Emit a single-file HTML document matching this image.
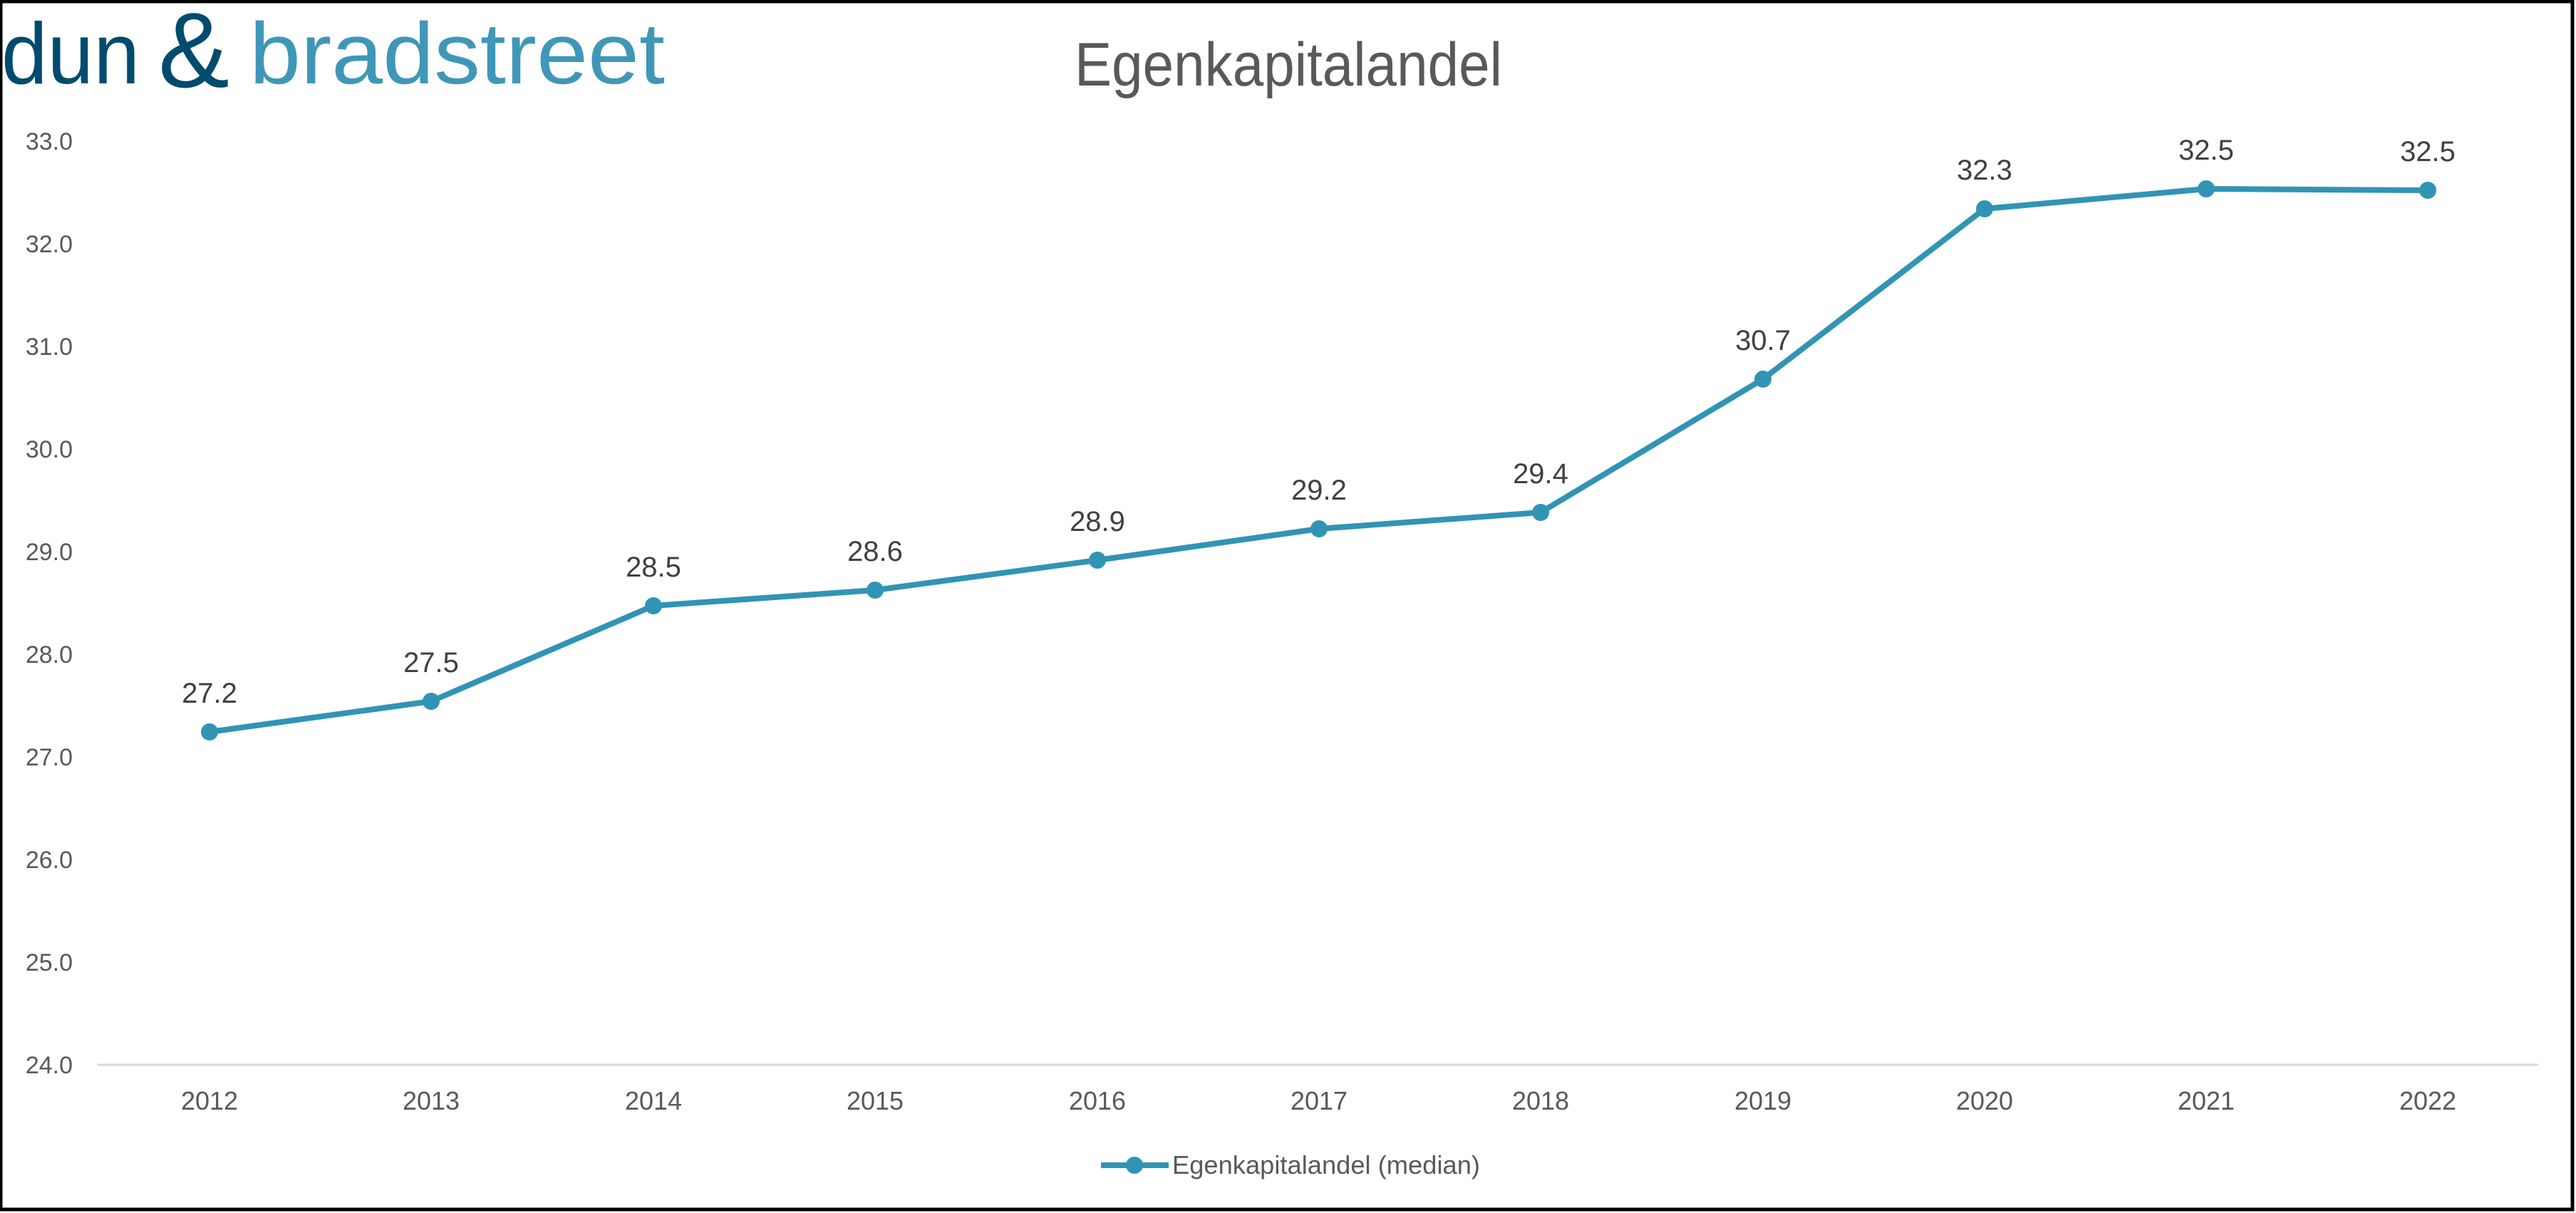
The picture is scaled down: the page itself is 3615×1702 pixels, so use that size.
<!DOCTYPE html>
<html><head><meta charset="utf-8"><style>
html,body{margin:0;padding:0;background:#fff}
svg{display:block}
text{font-family:"Liberation Sans",sans-serif}
</style></head><body>
<svg width="3615" height="1702" viewBox="0 0 3615 1702" xmlns="http://www.w3.org/2000/svg">
<rect x="0" y="0" width="3615" height="1702" fill="#fff"/>
<rect x="1" y="2" width="3609" height="1695" fill="none" stroke="#000" stroke-width="5"/>
<!-- logo -->
<text x="2" y="117" font-size="122" fill="#004b6e" textLength="194" lengthAdjust="spacingAndGlyphs">dun</text>
<text x="222" y="122" font-size="150" fill="#004b6e" textLength="100" lengthAdjust="spacingAndGlyphs">&amp;</text>
<text x="350" y="117" font-size="122" fill="#3f97b8" textLength="583" lengthAdjust="spacingAndGlyphs">bradstreet</text>
<!-- title -->
<text x="1808" y="120" font-size="86" fill="#595959" text-anchor="middle" textLength="600" lengthAdjust="spacingAndGlyphs">Egenkapitalandel</text>
<!-- y labels -->
<g font-size="34" fill="#595959" text-anchor="end">
<text x="102" y="210">33.0</text>
<text x="102" y="354">32.0</text>
<text x="102" y="498">31.0</text>
<text x="102" y="642">30.0</text>
<text x="102" y="786">29.0</text>
<text x="102" y="930">28.0</text>
<text x="102" y="1074">27.0</text>
<text x="102" y="1218">26.0</text>
<text x="102" y="1362">25.0</text>
<text x="102" y="1506">24.0</text>
</g>
<line x1="137" y1="1494" x2="3562" y2="1494" stroke="#d9d9d9" stroke-width="3"/>
<g font-size="36" fill="#595959" text-anchor="middle">
<text x="294" y="1557">2012</text>
<text x="605" y="1557">2013</text>
<text x="917" y="1557">2014</text>
<text x="1228" y="1557">2015</text>
<text x="1540" y="1557">2016</text>
<text x="1851" y="1557">2017</text>
<text x="2162" y="1557">2018</text>
<text x="2474" y="1557">2019</text>
<text x="2785" y="1557">2020</text>
<text x="3096" y="1557">2021</text>
<text x="3407" y="1557">2022</text>
</g>
<polyline fill="none" stroke="#3194b5" stroke-width="8" stroke-linejoin="round" points="294,1027 605,984 917,850 1228,828 1540,786 1851,742 2162,719 2474,532 2785,293 3096,265 3407,267"/>
<g fill="#3194b5">
<circle cx="294" cy="1027" r="12"/><circle cx="605" cy="984" r="12"/><circle cx="917" cy="850" r="12"/>
<circle cx="1228" cy="828" r="12"/><circle cx="1540" cy="786" r="12"/><circle cx="1851" cy="742" r="12"/>
<circle cx="2162" cy="719" r="12"/><circle cx="2474" cy="532" r="12"/><circle cx="2785" cy="293" r="12"/>
<circle cx="3096" cy="265" r="12"/><circle cx="3407" cy="267" r="12"/>
</g>
<g font-size="40" fill="#404040" text-anchor="middle">
<text x="294" y="986">27.2</text>
<text x="605" y="943">27.5</text>
<text x="917" y="809">28.5</text>
<text x="1228" y="787">28.6</text>
<text x="1540" y="745">28.9</text>
<text x="1851" y="701">29.2</text>
<text x="2162" y="678">29.4</text>
<text x="2474" y="491">30.7</text>
<text x="2785" y="252">32.3</text>
<text x="3096" y="224">32.5</text>
<text x="3407" y="226">32.5</text>
</g>
<!-- legend -->
<line x1="1545" y1="1635" x2="1640" y2="1635" stroke="#3194b5" stroke-width="8"/>
<circle cx="1592" cy="1635" r="12" fill="#3194b5"/>
<text x="1645" y="1647" font-size="36" fill="#595959" textLength="432" lengthAdjust="spacingAndGlyphs">Egenkapitalandel (median)</text>
</svg>
</body></html>
